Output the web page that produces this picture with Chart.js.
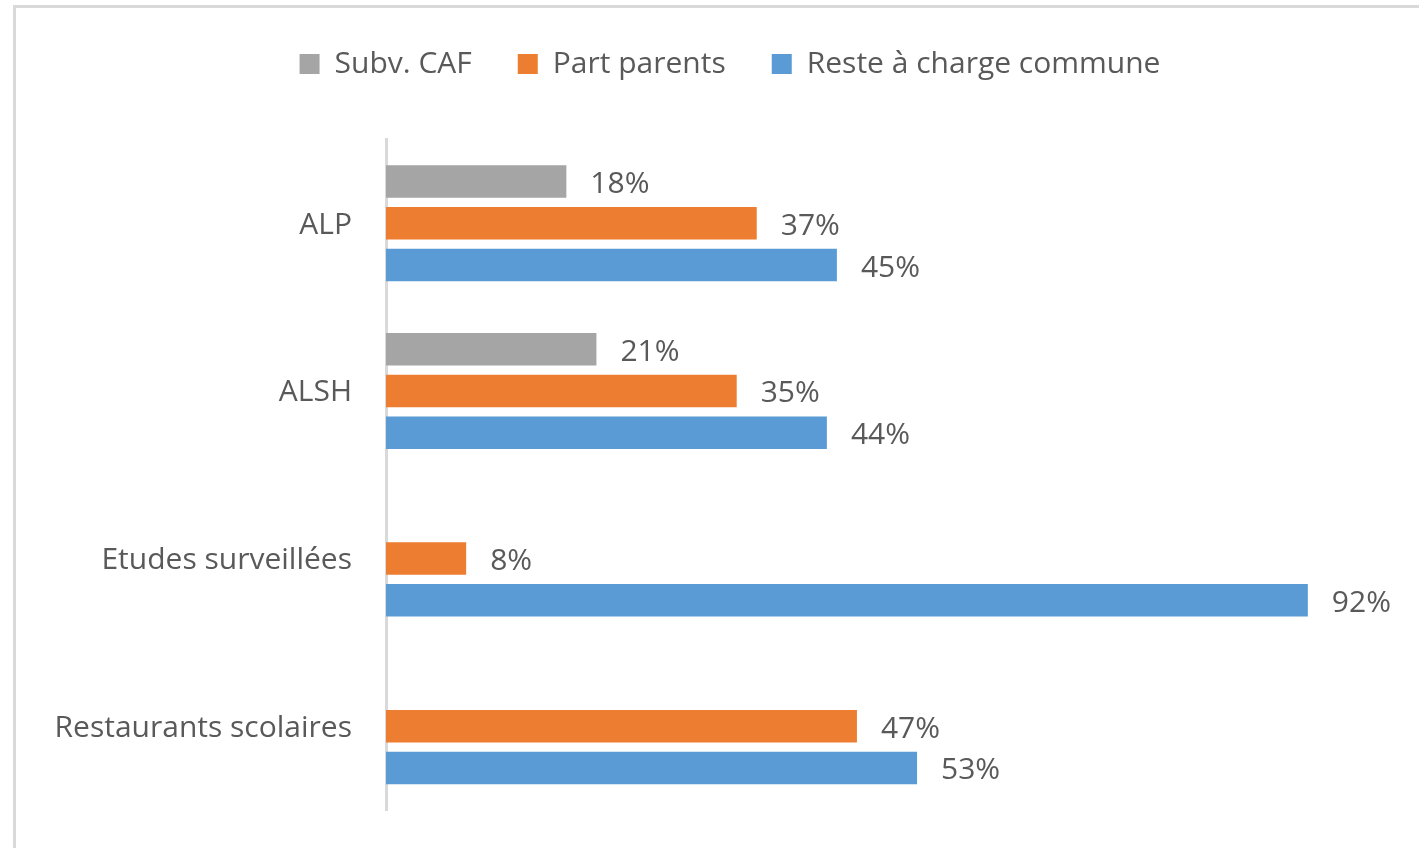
<!DOCTYPE html>
<html>
<head>
<meta charset="utf-8">
<script src="https://cdn.jsdelivr.net/npm/chart.js@4/dist/chart.umd.min.js"></script>
<style>
  html, body { margin: 0; padding: 0; width: 1419px; height: 848px; overflow: hidden; background: #fff; }
  #frame { position: absolute; left: 13px; top: 5px; width: 1500px; height: 950px; border: 3px solid #d9d9d9; box-sizing: border-box; }
  #wrap { position: absolute; left: 16px; top: 3px; width: 1430px; height: 860px; }
</style>
</head>
<body>
<div id="frame"></div>
<div id="wrap"><canvas id="c" width="1430" height="860"></canvas></div>
<script>
const categories = ["ALP", "ALSH", "Etudes surveillées", "Restaurants scolaires"];
const subvCAF = [18, 21, null, null];
const partParents = [37, 35, 8, 47];
const resteCommune = [45, 44, 92, 53];
const seriesNames = ["Subv. CAF", "Part parents", "Reste à charge commune"];

const TEXT = "#595959";
const FONT = "'Open Sans', 'Noto Sans', sans-serif";

const legendHeightPlugin = {
  id: 'legendHeight',
  beforeInit(chart) {
    const orig = chart.legend.fit;
    chart.legend.fit = function () {
      orig.call(this);
      this.height = 136.5;
    };
  },
  afterLayout(chart) {
    // centre the legend over the whole frame rather than the plot's padded box
    chart.legend.left = 56;
  }
};

const valueLabels = {
  id: 'valueLabels',
  afterDatasetsDraw(chart) {
    const ctx = chart.ctx;
    ctx.save();
    ctx.font = "30px " + FONT;
    ctx.fillStyle = TEXT;
    ctx.textAlign = 'left';
    ctx.textBaseline = 'middle';
    chart.data.datasets.forEach((ds, i) => {
      const meta = chart.getDatasetMeta(i);
      meta.data.forEach((bar, j) => {
        const v = ds.data[j];
        if (v === null || v === undefined) return;
        ctx.fillText(v + "%", bar.x + 24, bar.y + 3);
      });
    });
    ctx.restore();
  }
};

new Chart(document.getElementById('c'), {
  type: 'bar',
  data: {
    labels: categories,
    datasets: [
      { label: seriesNames[0], data: subvCAF, backgroundColor: '#A5A5A5' },
      { label: seriesNames[1], data: partParents, backgroundColor: '#ED7D31' },
      { label: seriesNames[2], data: resteCommune, backgroundColor: '#5B9BD5' }
    ]
  },
  options: {
    indexAxis: 'y',
    responsive: false,
    animation: false,
    devicePixelRatio: 1,
    categoryPercentage: 0.747,
    barPercentage: 0.78,
    layout: { padding: { left: 0, right: 58, top: 0, bottom: 53 } },
    plugins: {
      tooltip: { enabled: false },
      legend: {
        position: 'top',
        align: 'center',
        labels: {
          boxWidth: 20,
          boxHeight: 20,
          padding: 46,
          color: TEXT,
          font: { family: FONT, size: 30 }
        }
      }
    },
    scales: {
      x: { display: false, min: 0, max: 100 },
      y: {
        afterFit(scale) { scale.width = 370; },
        grid: { display: false, drawTicks: false },
        border: { display: true, color: '#d9d9d9', width: 3 },
        ticks: { padding: 34, labelOffset: 2, color: TEXT, font: { family: FONT, size: 30 } }
      }
    }
  },
  plugins: [legendHeightPlugin, valueLabels]
});
</script>
</body>
</html>
